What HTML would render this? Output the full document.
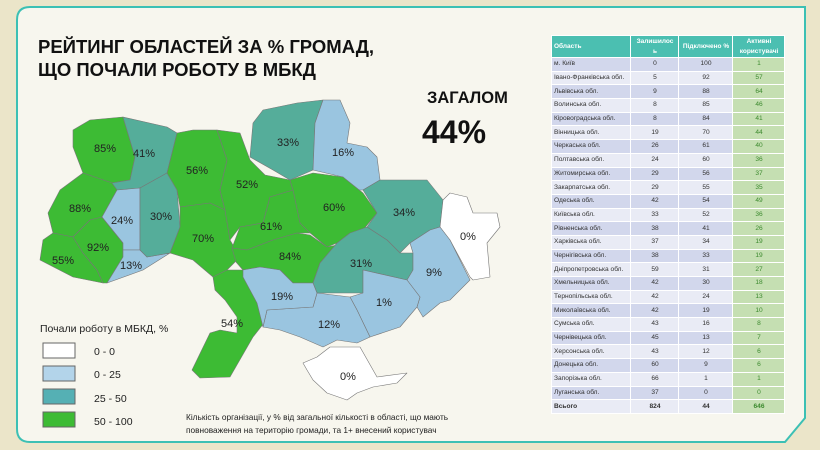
<!DOCTYPE html>
<html><head><meta charset="utf-8"><style>
body{margin:0;width:820px;height:450px;background:#ebe5c9;overflow:hidden;font-family:"Liberation Sans",sans-serif;position:relative}
svg{position:absolute;left:0;top:0}
table{position:absolute;left:551px;top:35px;border-collapse:collapse;font-size:6.6px;color:#333;white-space:nowrap}
td{height:12.7px;padding:0 1px 0 2px;border:1px solid #fff;text-align:center;line-height:10px}
td:first-child{text-align:left;width:75px}
td:nth-child(2){width:44px}td:nth-child(3){width:50px}td:nth-child(4){width:48px;background:#c5dfb2!important;color:#3c8a2e}
tr:nth-child(even) td{background:#d2d7ec}tr:nth-child(odd) td{background:#e9ebf5}
tr.h td{background:#4bbfb1!important;color:#fff;font-weight:bold;height:21px;font-size:6.5px}
tr.h td:nth-child(4){color:#fff}
tr.t td{font-weight:bold;background:#e9ebf5}
</style></head><body>
<svg width="820" height="450" viewBox="0 0 820 450" font-family="Liberation Sans, sans-serif">
<path d="M30 7 H805 V418 L785 442 H30 Q17 442 17 429 V20 Q17 7 30 7Z" fill="#f7f6ee" stroke="#3cc0b4" stroke-width="2"/>
<text x="38" y="53" font-size="18.5" font-weight="bold" fill="#111">РЕЙТИНГ ОБЛАСТЕЙ ЗА % ГРОМАД,</text>
<text x="38" y="76" font-size="18.5" font-weight="bold" fill="#111">ЩО ПОЧАЛИ РОБОТУ В МБКД</text>
<text x="427" y="103" font-size="16.5" font-weight="bold" fill="#111">ЗАГАЛОМ</text>
<text x="422" y="143" font-size="32" font-weight="bold" fill="#111">44%</text>
<g stroke="#777" stroke-width="0.6" stroke-linejoin="round">
<polygon fill="#3dbb34" points="73,130 90,120 123,117 135,157 130,180 112,183 83,173 73,147"/>
<polygon fill="#55ad9a" points="123,117 167,127 177,133 167,173 140,188 117,190 112,183 130,180 135,157"/>
<polygon fill="#3dbb34" points="83,173 112,183 117,190 102,217 90,220 73,237 53,233 48,213 60,190"/>
<polygon fill="#3dbb34" points="53,233 73,237 83,253 97,270 103,283 73,277 40,260 43,240"/>
<polygon fill="#3dbb34" points="73,237 90,220 102,217 123,243 123,257 107,283 103,283 97,270 83,253"/>
<polygon fill="#9ac5e0" points="102,217 117,190 140,188 140,250 123,250 123,243"/>
<polygon fill="#9ac5e0" points="123,250 140,250 147,257 170,253 143,270 107,283 123,257"/>
<polygon fill="#55ad9a" points="140,188 167,173 177,190 180,227 170,253 147,257 140,250"/>
<polygon fill="#3dbb34" points="167,173 177,133 193,130 217,130 227,160 220,190 225,210 210,203 180,207 177,190"/>
<polygon fill="#3dbb34" points="180,207 210,203 225,210 230,240 240,257 227,270 213,277 193,260 170,253 180,227"/>
<polygon fill="#3dbb34" points="213,277 227,270 243,270 250,285 262,300 268,318 253,337 230,377 200,378 192,370 210,333 220,330 237,333 237,317 225,300 215,290"/>
<polygon fill="#3dbb34" points="217,130 240,133 250,160 265,175 290,180 293,190 270,197 263,223 240,227 230,240 225,210 220,190 227,160"/>
<polygon fill="#55ad9a" points="253,123 263,110 297,103 323,100 315,123 313,170 290,180 273,170 250,157"/>
<polygon fill="#9ac5e0" points="323,100 340,100 350,123 347,143 367,147 377,157 380,180 363,190 353,190 343,177 313,170 315,123"/>
<polygon fill="#3dbb34" points="290,180 313,173 343,177 363,193 377,213 363,230 347,237 337,243 327,247 303,227 300,223 293,190"/>
<polygon fill="#3dbb34" points="240,227 263,223 270,197 293,190 300,223 310,233 297,233 273,240 247,250 232,248"/>
<polygon fill="#3dbb34" points="232,248 247,250 273,240 297,233 310,235 327,247 337,245 320,263 313,283 293,283 280,270 260,267 243,270 236,262"/>
<polygon fill="#55ad9a" points="363,190 380,180 397,180 427,180 443,200 440,227 430,230 410,243 400,253 387,240 367,227 377,213"/>
<polygon fill="#55ad9a" points="367,227 387,240 400,253 413,253 413,270 407,280 363,270 363,293 347,293 317,293 313,283 320,263 337,243 350,233"/>
<polygon fill="#ffffff" points="440,227 443,200 450,193 467,197 473,213 497,213 500,227 487,243 490,277 473,280 470,277 450,240"/>
<polygon fill="#9ac5e0" points="410,243 430,230 440,227 450,240 470,280 450,300 440,303 423,317 417,307 420,297 407,280 413,270 413,253"/>
<polygon fill="#9ac5e0" points="363,270 407,280 420,297 417,307 400,327 370,337 357,310 350,297 363,293"/>
<polygon fill="#9ac5e0" points="317,293 350,297 357,310 370,337 357,343 337,340 323,347 300,337 280,330 263,327 267,310 313,307"/>
<polygon fill="#9ac5e0" points="243,270 260,267 280,270 293,283 313,283 317,293 313,307 267,310 263,327 257,303 243,277"/>
<polygon fill="#ffffff" points="303,363 317,357 330,347 360,347 377,377 407,373 397,383 373,387 357,393 347,400 327,393 313,380 307,370"/>
</g>
<g font-size="11" fill="#222" text-anchor="middle">
<text x="105" y="152">85%</text><text x="144" y="157">41%</text><text x="197" y="174">56%</text>
<text x="288" y="146">33%</text><text x="343" y="156">16%</text><text x="80" y="212">88%</text>
<text x="122" y="224">24%</text><text x="161" y="220">30%</text><text x="247" y="188">52%</text>
<text x="271" y="230">61%</text><text x="334" y="211">60%</text><text x="404" y="216">34%</text>
<text x="468" y="240">0%</text><text x="98" y="251">92%</text><text x="63" y="264">55%</text>
<text x="131" y="269">13%</text><text x="203" y="242">70%</text><text x="290" y="260">84%</text>
<text x="361" y="267">31%</text><text x="434" y="276">9%</text><text x="282" y="300">19%</text>
<text x="384" y="306">1%</text><text x="329" y="328">12%</text><text x="232" y="327">54%</text>
<text x="348" y="380">0%</text>
</g>
<text x="40" y="332" font-size="10.5" fill="#222">Почали роботу в МБКД, %</text>
<g stroke="#666" stroke-width="1">
<rect x="43" y="343" width="32" height="15" fill="#fff"/>
<rect x="43" y="366" width="32" height="15" fill="#b3d4ea"/>
<rect x="43" y="389" width="32" height="15" fill="#55b0b4"/>
<rect x="43" y="412" width="32" height="15" fill="#3dbb34"/>
</g>
<g font-size="10.5" fill="#222">
<text x="94" y="355">0 - 0</text><text x="94" y="378">0 - 25</text>
<text x="94" y="402">25 - 50</text><text x="94" y="425">50 - 100</text>
</g>
<text x="186" y="420" font-size="8.3" fill="#222">Кількість організації, у % від загальної кількості в області, що мають</text>
<text x="186" y="433" font-size="8.3" fill="#222">повноваження на територію громади, та 1+ внесений користувач</text>
</svg>
<table>
<tr class="h"><td>Область</td><td>Залишилос<br>ь</td><td>Підключено %</td><td>Активні<br>користувачі</td></tr>
<tr><td>м. Київ</td><td>0</td><td>100</td><td>1</td></tr>
<tr><td>Івано-Франківська обл.</td><td>5</td><td>92</td><td>57</td></tr>
<tr><td>Львівська обл.</td><td>9</td><td>88</td><td>64</td></tr>
<tr><td>Волинська обл.</td><td>8</td><td>85</td><td>46</td></tr>
<tr><td>Кіровоградська обл.</td><td>8</td><td>84</td><td>41</td></tr>
<tr><td>Вінницька обл.</td><td>19</td><td>70</td><td>44</td></tr>
<tr><td>Черкаська обл.</td><td>26</td><td>61</td><td>40</td></tr>
<tr><td>Полтавська обл.</td><td>24</td><td>60</td><td>36</td></tr>
<tr><td>Житомирська обл.</td><td>29</td><td>56</td><td>37</td></tr>
<tr><td>Закарпатська обл.</td><td>29</td><td>55</td><td>35</td></tr>
<tr><td>Одеська обл.</td><td>42</td><td>54</td><td>49</td></tr>
<tr><td>Київська обл.</td><td>33</td><td>52</td><td>36</td></tr>
<tr><td>Рівненська обл.</td><td>38</td><td>41</td><td>26</td></tr>
<tr><td>Харківська обл.</td><td>37</td><td>34</td><td>19</td></tr>
<tr><td>Чернігівська обл.</td><td>38</td><td>33</td><td>19</td></tr>
<tr><td>Дніпропетровська обл.</td><td>59</td><td>31</td><td>27</td></tr>
<tr><td>Хмельницька обл.</td><td>42</td><td>30</td><td>18</td></tr>
<tr><td>Тернопільська обл.</td><td>42</td><td>24</td><td>13</td></tr>
<tr><td>Миколаївська обл.</td><td>42</td><td>19</td><td>10</td></tr>
<tr><td>Сумська обл.</td><td>43</td><td>16</td><td>8</td></tr>
<tr><td>Чернівецька обл.</td><td>45</td><td>13</td><td>7</td></tr>
<tr><td>Херсонська обл.</td><td>43</td><td>12</td><td>6</td></tr>
<tr><td>Донецька обл.</td><td>60</td><td>9</td><td>6</td></tr>
<tr><td>Запорізька обл.</td><td>66</td><td>1</td><td>1</td></tr>
<tr><td>Луганська обл.</td><td>37</td><td>0</td><td>0</td></tr>
<tr class="t"><td>Всього</td><td>824</td><td>44</td><td>646</td></tr>
</table>
</body></html>
